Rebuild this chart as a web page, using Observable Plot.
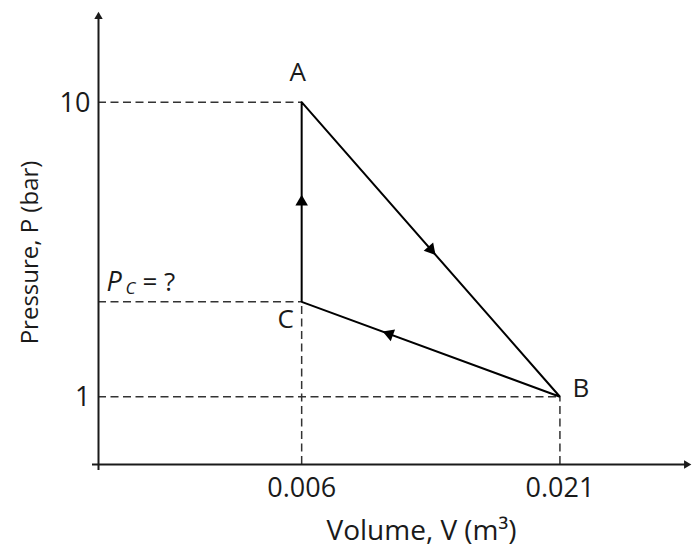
<!DOCTYPE html>
<html><head><meta charset="utf-8">
<script src="https://cdn.jsdelivr.net/npm/d3@7"></script>
<script src="https://cdn.jsdelivr.net/npm/@observablehq/plot@0.6"></script>
<style>body{margin:0;background:#fff} svg{display:block}</style>
</head><body><div id="chart"></div>
<script>
// States of the cycle (P_C is unknown, placement estimated)
const states = ["A", "B", "C"];
const volumes = [0.006, 0.021, 0.006];       // m^3
const pressures = [10, 1, 3.9];              // bar
const cycleOrder = ["A", "B", "C", "A"];
const arrowFractions = [0.5, 0.66, 0.5];     // where the direction arrow sits on A→B, B→C, C→A
const xTicks = [0.006, 0.021];
const xTickLabels = ["0.006", "0.021"];
const yTicks = [10, 1];
const yTickLabels = ["10", "1"];
const xDomain = [-0.0058, 0.0287];
const yDomain = [-1.07, 12.8];
const xTitle = "Volume, V (m³)";
const yTitle = "Pressure, P (bar)";

const W = 692, H = 549;
const M = {top: 10, right: 0, bottom: 85, left: 98};

const pts = states.map((s, i) => ({s, v: volumes[i], p: pressures[i]}));
const byName = Object.fromEntries(pts.map(d => [d.s, d]));
const path = cycleOrder.map(s => byName[s]);

const sx = Plot.scale({x: {domain: xDomain, range: [M.left, W - M.right]}});
const sy = Plot.scale({y: {domain: yDomain, range: [H - M.bottom, M.top]}});

const heads = [];
for (let i = 0; i < path.length - 1; i++) {
  const a = path[i], b = path[i + 1], t = arrowFractions[i];
  const dx = sx.apply(b.v) - sx.apply(a.v), dy = sy.apply(b.p) - sy.apply(a.p);
  heads.push({v: a.v + (b.v - a.v) * t, p: a.p + (b.p - a.p) * t, rot: Math.atan2(dy, dx) * 180 / Math.PI + 90});
}

const labelOffsets = {A: [-4, -29], B: [21, -8], C: [-16, 18]};
const ink = "#1a1a1a";
const font = "'Open Sans', Lato, sans-serif";

const chart = Plot.plot({
  width: W, height: H,
  marginTop: M.top, marginRight: M.right, marginBottom: M.bottom, marginLeft: M.left,
  x: {domain: xDomain, axis: null},
  y: {domain: yDomain, axis: null},
  style: {fontFamily: font, background: "#fff"},
  marks: [
    // dashed guides
    Plot.ruleY(pts, {y: "p", x1: xDomain[0], x2: "v", stroke: "#333", strokeWidth: 1.5, strokeDasharray: "8,4.5"}),
    Plot.ruleX(pts.filter(d => d.s !== "A"), {x: "v", y1: yDomain[0], y2: "p", stroke: "#333", strokeWidth: 1.5, strokeDasharray: "8,4.5"}),
    // axes
    Plot.ruleY([yDomain[0]], {x1: xDomain[0], x2: xDomain[1], stroke: ink, strokeWidth: 2, dx: -6}),
    Plot.ruleX([xDomain[0]], {y1: yDomain[0], y2: yDomain[1], stroke: ink, strokeWidth: 2, dy: 6}),
    Plot.dot([0], {x: xDomain[1], y: yDomain[0], symbol: "triangle2", r: 4, fill: ink, rotate: 90, dx: -6}),
    Plot.dot([0], {x: xDomain[0], y: yDomain[1], symbol: "triangle2", r: 4, fill: ink, rotate: 0, dy: 6}),
    // cycle
    Plot.line(path, {x: "v", y: "p", stroke: "#000", strokeWidth: 2, strokeLinejoin: "miter"}),
    Plot.dot(heads, {x: "v", y: "p", rotate: "rot", symbol: "triangle2", r: 6, fill: "#000"}),
    // state labels
    ...pts.map(d => Plot.text([d], {x: "v", y: "p", text: "s", fontSize: 26, fill: ink, dx: labelOffsets[d.s][0], dy: labelOffsets[d.s][1]})),
    // P_C = ? label
    Plot.text([byName.C], {x: xDomain[0], y: "p", text: () => "P", fontSize: 27, fontStyle: "italic", fill: ink, textAnchor: "start", dx: 8, dy: -19}),
    Plot.text([byName.C], {x: xDomain[0], y: "p", text: () => "C", fontSize: 17, fontStyle: "italic", fill: ink, textAnchor: "start", dx: 27, dy: -13}),
    Plot.text([byName.C], {x: xDomain[0], y: "p", text: () => "= ?", fontSize: 26, fill: ink, textAnchor: "start", dx: 44, dy: -19}),
    // tick labels
    Plot.text(xTicks, {x: d => d, y: yDomain[0], text: (d, i) => xTickLabels[i], fontSize: 27, fill: ink, dy: 24}),
    Plot.text(yTicks, {x: xDomain[0], y: d => d, text: (d, i) => yTickLabels[i], fontSize: 27, fill: ink, textAnchor: "end", dx: -8, dy: 1}),
    // axis titles
    Plot.text([xTitle], {frameAnchor: "bottom", text: d => d, fontSize: 28, fill: ink, textAnchor: "middle", lineAnchor: "middle", dx: 26, dy: 67}),
    Plot.text([yTitle], {frameAnchor: "left", text: d => d, fontSize: 24, fill: ink, textAnchor: "middle", lineAnchor: "middle", rotate: -90, dx: -68, dy: 15})
  ]
});
document.getElementById("chart").append(chart);
</script>
</body></html>
